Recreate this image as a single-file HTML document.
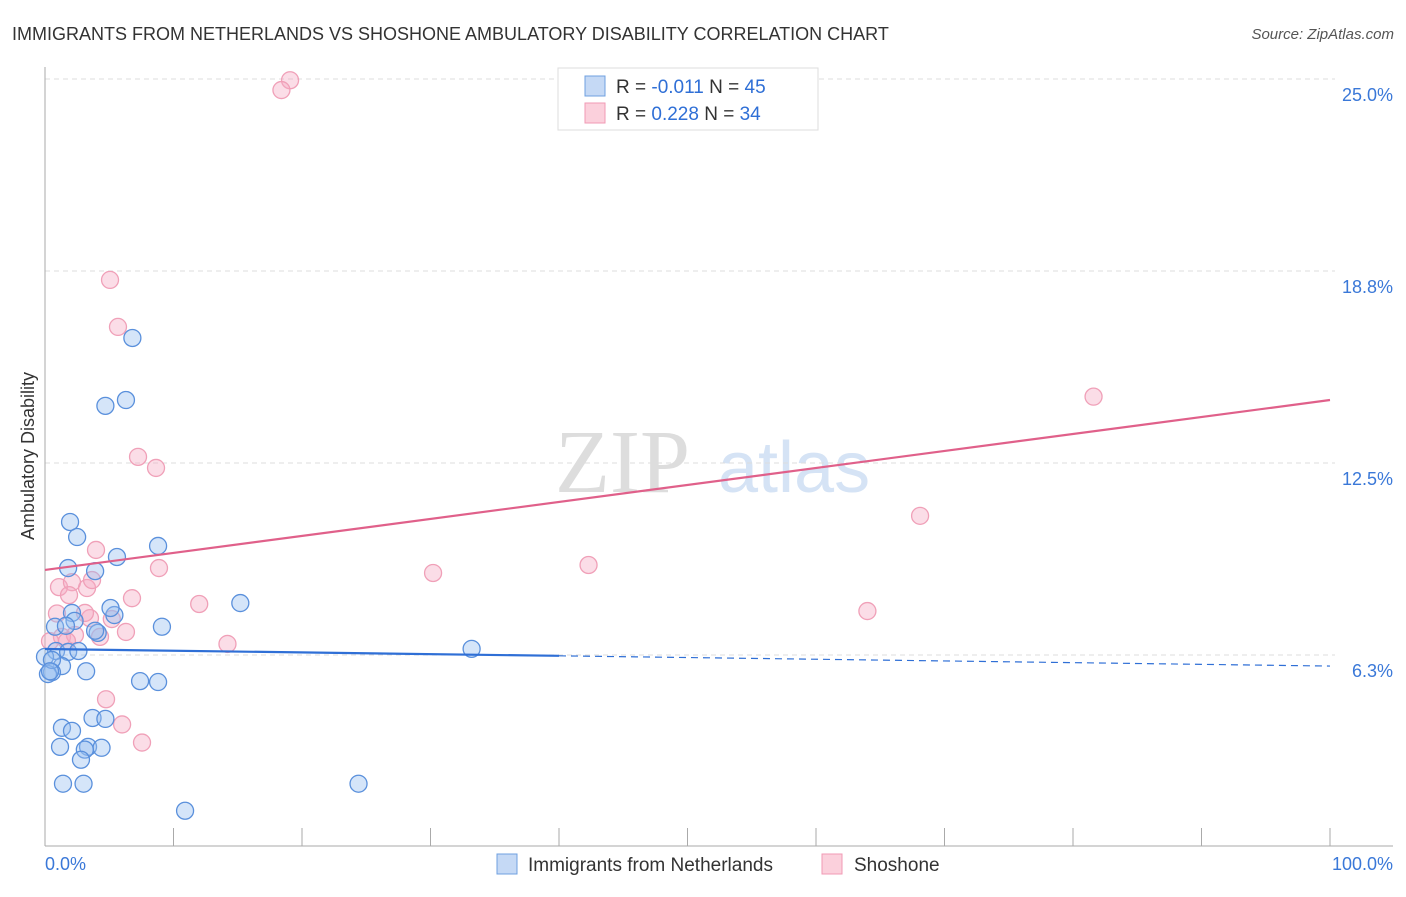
<!DOCTYPE html>
<html><head><meta charset="utf-8"><style>
body{margin:0;background:#fff;font-family:"Liberation Sans",sans-serif}
</style></head><body>
<svg id="chart" width="1406" height="892" xmlns="http://www.w3.org/2000/svg">
<text x="12" y="40" font-size="18" fill="#333">IMMIGRANTS FROM NETHERLANDS VS SHOSHONE AMBULATORY DISABILITY CORRELATION CHART</text>
<text x="1394" y="39" font-size="15" fill="#555" text-anchor="end" font-style="italic">Source: ZipAtlas.com</text>
<text transform="translate(34,456) rotate(-90)" font-size="18" fill="#333" text-anchor="middle">Ambulatory Disability</text>
<g><text x="555" y="492" font-size="90" fill="#ddd" font-family="Liberation Serif">ZIP</text><text x="718" y="492" font-size="72" fill="#d5e3f5">atlas</text></g>
<g id="grid"></g><g id="axes"></g><g id="pts"></g><g id="lines"></g>
<g>
<rect x="558" y="68" width="260" height="62" fill="#fff" stroke="#ddd"/>
<rect x="585" y="76" width="20" height="20" fill="#c5d9f5" stroke="#6fa0e0"/>
<rect x="585" y="103" width="20" height="20" fill="#fbd0dc" stroke="#f09ab4"/>
<text x="616" y="93" font-size="19" fill="#333">R = <tspan fill="#2f6fd6">-0.011</tspan>   N = <tspan fill="#2f6fd6">45</tspan></text>
<text x="616" y="120" font-size="19" fill="#333">R =  <tspan fill="#2f6fd6">0.228</tspan>   N = <tspan fill="#2f6fd6">34</tspan></text>
</g>
<g>
<rect x="497" y="854" width="20" height="20" fill="#c5d9f5" stroke="#6fa0e0"/>
<text x="528" y="871" font-size="19" fill="#333">Immigrants from Netherlands</text>
<rect x="822" y="854" width="20" height="20" fill="#fbd0dc" stroke="#f09ab4"/>
<text x="854" y="871" font-size="19" fill="#333">Shoshone</text>
</g>
</svg>
<script>
const yTicks=[6.25,12.5,18.75,25];
const yTickLabels=["6.3%","12.5%","18.8%","25.0%"];
const xTickLabels=["0.0%","100.0%"];
const blueX=[6.8,4.7,6.3,1.95,2.5,8.8,5.6,1.8,3.9,2.1,5.4,15.2,2.3,0.78,1.63,9.1,4.1,0.86,1.8,2.6,33.2,1.32,3.2,0.54,0.23,7.4,8.8,3.7,4.7,1.32,2.1,3.35,1.17,4.4,3.1,2.8,1.4,3.0,24.4,10.9,0,0.54,0.39,5.1,3.9];
const blueY=[16.57,14.36,14.55,10.58,10.09,9.8,9.44,9.08,8.98,7.62,7.55,7.94,7.36,7.17,7.2,7.17,6.97,6.38,6.35,6.38,6.45,5.89,5.72,5.69,5.63,5.4,5.37,4.2,4.17,3.88,3.78,3.26,3.26,3.23,3.17,2.84,2.06,2.06,2.06,1.18,6.19,6.09,5.72,7.78,7.04];
const pinkX=[19.07,18.4,5.06,5.68,7.24,8.64,81.6,68.1,3.97,8.87,30.2,42.3,1.09,2.1,3.27,3.66,1.87,6.77,12.0,0.93,3.5,5.2,64.0,6.3,4.28,1.32,2.33,14.2,0.39,4.75,6.0,7.55,3.11,1.71];
const pinkY=[24.96,24.64,18.46,16.93,12.7,12.34,14.66,10.78,9.67,9.08,8.92,9.18,8.46,8.62,8.43,8.69,8.2,8.1,7.91,7.6,7.45,7.42,7.68,7.0,6.84,6.84,6.9,6.61,6.7,4.81,3.99,3.4,7.62,6.7];
const pinkTrend=[9.02,14.55];
const blueTrend=[6.445,5.89];
const NS="http://www.w3.org/2000/svg";
const X=v=>45+v/100*1285, Y=v=>655-(v-6.25)*30.72;
function mk(t,a,p){const e=document.createElementNS(NS,t);for(const k in a)e.setAttribute(k,a[k]);document.getElementById(p).appendChild(e);return e;}
yTicks.forEach((t,i)=>{
 const l=mk('line',{x1:45,x2:1335,y1:Y(t),y2:Y(t),stroke:'#ddd','stroke-dasharray':'5,4'},'grid');
 
 
 const tx=mk('text',{x:1393,y:Y(t)+22,'font-size':18,fill:'#3a78d8','text-anchor':'end'},'axes');tx.textContent=yTickLabels[i];
 
 
});
let a=mk('line',{x1:45,x2:45,y1:67,y2:846,stroke:'#aaa'},'axes');


a=mk('line',{x1:45,x2:1393,y1:846,y2:846,stroke:'#aaa'},'axes');


for(let i=1;i<=10;i++){const t=mk('line',{x1:X(i*10),x2:X(i*10),y1:828,y2:846,stroke:'#aaa'},'axes');
 
 }
[[0,'start',45],[100,'end',1393]].forEach((d,i)=>{const t=mk('text',{x:d[2],y:870,'font-size':18,fill:'#3a78d8','text-anchor':d[1]},'axes');t.textContent=xTickLabels[i];
 
 });
pinkX.forEach((x,i)=>{const c=mk('circle',{cx:X(x),cy:Y(pinkY[i]),r:8.5,fill:'rgba(246,170,195,0.4)',stroke:'#f0a0b8','stroke-width':1.3},'pts');
 
 });
blueX.forEach((x,i)=>{const c=mk('circle',{cx:X(x),cy:Y(blueY[i]),r:8.5,fill:'rgba(150,190,240,0.4)',stroke:'#5a90dc','stroke-width':1.3},'pts');
 
 });
let l=mk('line',{x1:X(0),y1:Y(pinkTrend[0]),x2:X(100),y2:Y(pinkTrend[1]),stroke:'#e0608a','stroke-width':2.2},'lines');


const by=x=>blueTrend[0]+(blueTrend[1]-blueTrend[0])*x/100;
l=mk('line',{x1:X(0),y1:Y(by(0)),x2:X(40),y2:Y(by(40)),stroke:'#2f6fd6','stroke-width':2.2},'lines');


l=mk('line',{x1:X(40),y1:Y(by(40)),x2:X(100),y2:Y(by(100)),stroke:'#2f6fd6','stroke-width':1.2,'stroke-dasharray':'7,5'},'lines');


</script>
</body></html>
